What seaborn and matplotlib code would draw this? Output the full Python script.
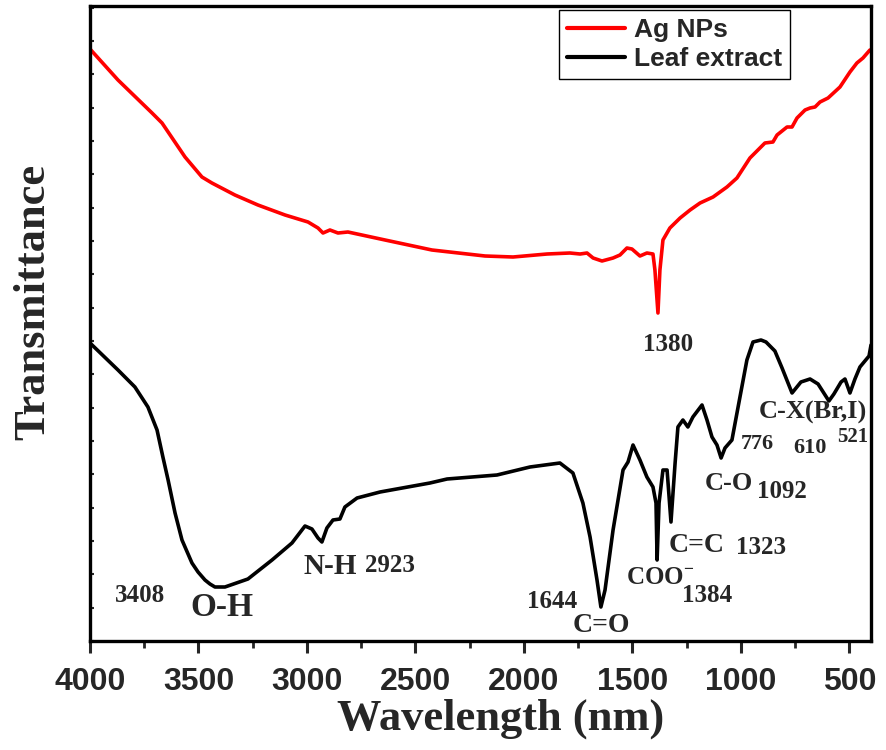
import matplotlib
matplotlib.use("Agg")
import matplotlib.pyplot as plt
from matplotlib import font_manager
from matplotlib.ticker import MultipleLocator, NullFormatter
import seaborn as sns
import pandas as pd

# ---- data ----
ag_wn = [4000, 3871, 3714, 3668, 3562, 3484, 3438, 3332, 3226, 3101, 2995, 2949, 2926, 2894,
         2857, 2811, 2640, 2424, 2179, 2050, 1893, 1788, 1741, 1709, 1681, 1640, 1589, 1557,
         1525, 1502, 1465, 1433, 1405, 1396, 1382, 1373, 1359, 1327, 1280, 1234, 1188, 1128,
         1064, 1018, 958, 889, 852, 833, 787, 764, 741, 704, 681, 658, 635, 598, 543, 497,
         465, 437, 405]
ag_t = [17.76, 16.83, 15.84, 15.54, 14.52, 13.92, 13.74, 13.38, 13.08, 12.78, 12.57, 12.39,
        12.24, 12.33, 12.24, 12.27, 12.03, 11.73, 11.55, 11.52, 11.61, 11.64, 11.61, 11.64,
        11.49, 11.40, 11.49, 11.58, 11.79, 11.76, 11.55, 11.64, 11.61, 11.13, 9.84, 11.13,
        12.03, 12.39, 12.69, 12.93, 13.14, 13.32, 13.62, 13.89, 14.49, 14.94, 14.97, 15.18,
        15.42, 15.42, 15.69, 15.93, 15.99, 16.02, 16.17, 16.29, 16.62, 17.07, 17.34, 17.49,
        17.73]

leaf_wn = [4000, 3871, 3793, 3733, 3691, 3664, 3640, 3608, 3576, 3530, 3502, 3470, 3447, 3424,
           3378, 3272, 3161, 3069, 3009, 2977, 2949, 2931, 2908, 2880, 2848, 2825, 2769, 2663,
           2433, 2354, 2124, 1972, 1834, 1774, 1728, 1695, 1663, 1645, 1626, 1589, 1543, 1520,
           1497, 1465, 1433, 1405, 1391, 1386, 1377, 1359, 1340, 1322, 1303, 1290, 1267, 1244,
           1221, 1179, 1156, 1133, 1110, 1091, 1073, 1041, 1004, 972, 944, 907, 884, 843, 810,
           764, 723, 681, 644, 594, 571, 538, 520, 497, 474, 451, 409, 400]
leaf_t = [8.94, 8.13, 7.62, 7.02, 6.33, 5.52, 4.83, 3.84, 3.03, 2.34, 2.07, 1.83, 1.71, 1.62,
          1.62, 1.86, 2.43, 2.94, 3.45, 3.36, 3.09, 2.97, 3.39, 3.63, 3.66, 4.02, 4.29, 4.47,
          4.74, 4.86, 4.98, 5.22, 5.34, 5.04, 4.14, 3.12, 1.83, 1.02, 1.53, 3.33, 5.13, 5.37,
          5.88, 5.43, 4.92, 4.62, 4.14, 2.43, 4.14, 5.13, 5.13, 3.57, 5.34, 6.42, 6.63, 6.42,
          6.72, 7.08, 6.63, 6.12, 5.88, 5.49, 5.79, 6.03, 7.32, 8.43, 8.97, 9.03, 8.97, 8.70,
          8.19, 7.44, 7.77, 7.86, 7.71, 7.20, 7.41, 7.77, 7.86, 7.44, 7.86, 8.22, 8.55, 8.88]

series_names = ["Ag NPs", "Leaf extract"]
series_colors = ["#ff0000", "#000000"]

x_ticks = [4000, 3500, 3000, 2500, 2000, 1500, 1000, 500]

# annotations: (text, wavenumber, transmittance, fontsize)
ann_text = ["1380", "3408", "O-H", "N-H", "2923", "1644", "C=O", "COO$^{\\mathbf{-}}$", "1384",
            "C=C", "1323", "C-O", "1092", "C-X(Br,I)", "776", "610", "521"]
ann_wn = [1336, 3770, 3392, 2894, 2617, 1870, 1645, 1373, 1156, 1202, 907, 1055, 810, 667,
          926, 681, 483]
ann_t = [8.88, 1.35, 0.99, 2.25, 2.25, 1.17, 0.45, 1.89, 1.38, 2.88, 2.82, 4.74, 4.50, 6.87,
         5.91, 5.79, 6.12]
ann_size = [18, 18, 24, 21, 18, 18, 20, 18, 18, 20, 18, 19, 18, 19, 16, 16, 15]

# ---- style ----
sns.set_style("ticks")
avail = {f.name for f in font_manager.fontManager.ttflist}
serif = "Liberation Serif" if "Liberation Serif" in avail else "DejaVu Serif"
sans = "Liberation Sans" if "Liberation Sans" in avail else "DejaVu Sans"
plt.rcParams["font.family"] = [serif, "DejaVu Serif"]
plt.rcParams["mathtext.fontset"] = "custom"
plt.rcParams["mathtext.rm"] = serif + ":bold"
plt.rcParams["mathtext.bf"] = serif + ":bold"

frames = []
for name, wn, t in [(series_names[0], ag_wn, ag_t), (series_names[1], leaf_wn, leaf_t)]:
    frames.append(pd.DataFrame({"wn": wn, "T": t, "sample": name}))
df = pd.concat(frames, ignore_index=True)

fig = plt.figure(figsize=(8.86, 7.5), dpi=100)
ax = fig.add_axes([90 / 886, 1 - 641 / 750, (871 - 90) / 886, (641 - 6) / 750])

sns.lineplot(data=df, x="wn", y="T", hue="sample", palette=series_colors,
             hue_order=series_names, sort=False, estimator=None, linewidth=2.6, ax=ax)

ax.set_xlim(4000, 400)
ax.set_ylim(0, 19.05)
ax.xaxis.set_major_locator(MultipleLocator(500))
ax.xaxis.set_minor_locator(MultipleLocator(250))
ax.yaxis.set_major_locator(MultipleLocator(1))
ax.yaxis.set_major_formatter(NullFormatter())
ax.set_xticks(x_ticks)
ax.set_xticklabels([str(v) for v in x_ticks])

for s in ax.spines.values():
    s.set_linewidth(2.4)
    s.set_color("black")

ax.tick_params(axis="x", which="major", direction="out", length=8.5, width=2.2, pad=10,
               labelsize=23, bottom=True, top=False)
ax.tick_params(axis="x", which="minor", direction="out", length=5, width=2.0, bottom=True, top=False)
ax.tick_params(axis="y", which="major", direction="in", length=3, width=1.5, left=True, right=False)
for lab in ax.get_xticklabels():
    lab.set_fontfamily([sans, "DejaVu Sans"])
    lab.set_fontweight("bold")

ax.set_xlabel("Wavelength (nm)", fontsize=32, fontweight="bold", family=[serif])
ax.set_ylabel("Transmittance", fontsize=32, fontweight="bold", family=[serif])
ax.xaxis.set_label_coords(0.526, -0.09)
ax.yaxis.set_label_coords(-0.072, 0.534)
ax.xaxis.label.set_va("top")
ax.yaxis.label.set_va("center")

for txt, x, y, fs in zip(ann_text, ann_wn, ann_t, ann_size):
    ax.text(x, y, txt, fontsize=fs, fontweight="bold", family=[serif], ha="center", va="center")

leg = ax.legend(loc="upper right", bbox_to_anchor=((790 - 90) / (871 - 90), 1 - 4 / 635),
                frameon=True, fancybox=False, edgecolor="black", framealpha=1,
                prop={"family": [sans, "DejaVu Sans"], "weight": "bold", "size": 19},
                handlelength=2.2, handletextpad=0.35, borderpad=0.3, labelspacing=0.2,
                borderaxespad=0)
leg.get_frame().set_linewidth(1.0)
for line in leg.get_lines():
    line.set_linewidth(3)

fig.savefig("out.png", dpi=100)
